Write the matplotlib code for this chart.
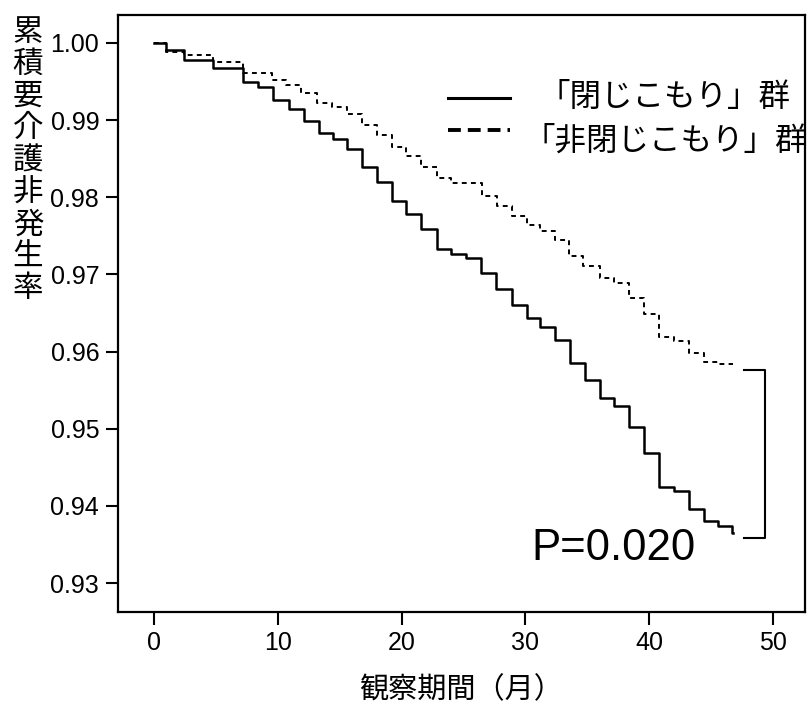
import matplotlib
matplotlib.use("Agg")
import matplotlib.pyplot as plt
from matplotlib.lines import Line2D

plt.rcParams['font.family'] = ['Noto Sans CJK JP', 'DejaVu Sans']

# 「閉じこもり」群 (月, 累積要介護非発生率)
t_closed = [0, 1.0, 2.4, 4.8, 7.2, 8.4, 9.6, 10.9, 12.1, 13.3, 14.5, 15.6, 16.8, 18.0,
            19.2, 20.4, 21.6, 22.9, 24.0, 25.2, 26.4, 27.6, 28.9, 30.1, 31.2, 32.4,
            33.6, 34.8, 36.0, 37.2, 38.4, 39.6, 40.8, 42.0, 43.2, 44.4, 45.6, 46.7, 46.8]
s_closed = [1.0000, 0.9991, 0.9978, 0.99673, 0.99499, 0.99427, 0.99263, 0.99146, 0.98991,
            0.98832, 0.98754, 0.98625, 0.98392, 0.98198, 0.97956, 0.97784, 0.97590,
            0.97335, 0.97266, 0.97214, 0.97020, 0.96805, 0.96601, 0.96438, 0.96317,
            0.96145, 0.95856, 0.95631, 0.95399, 0.95295, 0.95029, 0.94692, 0.94252,
            0.94188, 0.93959, 0.93799, 0.93735, 0.93650, 0.93650]

# 「非閉じこもり」群
t_open = [0, 1.0, 2.4, 4.8, 7.2, 9.5, 10.7, 11.9, 13.2, 14.4, 15.6, 16.8, 18.0, 19.2,
          20.4, 21.6, 22.9, 24.0, 26.5, 27.7, 28.9, 30.1, 31.2, 32.4, 33.5, 34.7, 36.0,
          37.2, 38.4, 39.6, 40.8, 42.0, 43.2, 44.4, 45.6, 46.8]
s_open = [1.0000, 0.99887, 0.99845, 0.99758, 0.99616, 0.99521, 0.99457, 0.99349, 0.99220,
          0.99168, 0.99085, 0.98939, 0.98810, 0.98645, 0.98529, 0.98390, 0.98245,
          0.98185, 0.98012, 0.97882, 0.97753, 0.97645, 0.97559, 0.97442, 0.97244,
          0.97106, 0.96955, 0.96891, 0.96697, 0.96481, 0.96192, 0.96136, 0.95985,
          0.95869, 0.95834, 0.95834]

x_ticks = [0, 10, 20, 30, 40, 50]
y_ticks = [0.93, 0.94, 0.95, 0.96, 0.97, 0.98, 0.99, 1.00]
y_tick_labels = ["%.2f" % v for v in y_ticks]

labels = ["「閉じこもり」群", "「非閉じこもり」群"]
p_label = "P=0.020"
p_pos = (30.5, 0.9330)
bracket_x = [47.7, 49.4, 49.4, 47.7]
bracket_y = [0.9576, 0.9576, 0.9358, 0.9358]

fig = plt.figure(figsize=(8.08, 7.04), dpi=100)
plt.subplots_adjust(left=0.146, right=0.9963, bottom=0.1307, top=0.9787)
ax = plt.gca()

ax.plot(t_closed, s_closed, color='black', lw=1.8, drawstyle='steps-post')
ax.plot(t_open, s_open, color='black', lw=1.4, dashes=(2.5, 2.2), drawstyle='steps-post')
ax.plot(bracket_x, bracket_y, color='black', lw=1.5)
ax.text(p_pos[0], p_pos[1], p_label, fontsize=31.5, family='Liberation Sans',
        ha='left', va='baseline')

# 凡例 (文字は中央揃え)
ax.add_line(Line2D([0.4803, 0.5706], [0.861, 0.861], transform=ax.transAxes,
                   color='black', lw=2.2))
ax.add_line(Line2D([0.4803, 0.5706], [0.8074, 0.8074], transform=ax.transAxes,
                   color='black', lw=2.8, dashes=(3.3, 1.8)))
ax.text(0.7962, 0.8626, labels[0], transform=ax.transAxes, fontsize=22.7,
        ha='center', va='center')
ax.text(0.7962, 0.7889, labels[1], transform=ax.transAxes, fontsize=22.7,
        ha='center', va='center')

ax.set_xlim(-2.91, 52.6)
ax.set_ylim(0.92626, 1.00362)
ax.set_xticks(x_ticks, labels=[str(v) for v in x_ticks],
              fontfamily='Liberation Sans', fontsize=18)
ax.set_yticks(y_ticks, labels=y_tick_labels,
              fontfamily='Liberation Sans', fontsize=18)
ax.tick_params(direction='out', length=9, width=1.5, pad=4.5)
for sp in ax.spines.values():
    sp.set_linewidth(1.6)

ax.set_ylabel("\n".join("累積要介護非発生率"), rotation=0, fontsize=22,
              linespacing=1.045, ha='center', va='center')
ax.yaxis.set_label_coords(-0.131, 0.756)
ax.set_xlabel("観察期間（月）", fontsize=21, va='center')
ax.xaxis.set_label_coords(0.5, -0.1307)

plt.savefig("out.png", dpi=100)
